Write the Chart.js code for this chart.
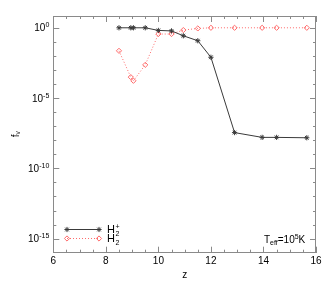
<!DOCTYPE html>
<html>
<head>
<meta charset="utf-8">
<script src="https://cdn.jsdelivr.net/npm/chart.js@4/dist/chart.umd.min.js"></script>
<style>
  html, body { margin: 0; padding: 0; background: #fff; }
  #c { display: block; }
</style>
</head>
<body>
<canvas id="c" width="332" height="287"></canvas>
<script>
// ---- data ----
const zValues = [8.5, 8.95, 9.05, 9.5, 10, 10.5, 10.95, 11.5, 12, 12.9, 13.95, 14.5, 15.65];
const fH2plus = [1, 1, 1, 1, 0.65, 0.6, 0.27, 0.12, 8e-3, 3.5e-8, 1.6e-8, 1.6e-8, 1.5e-8];
const fH2     = [0.023, 3.1e-4, 1.7e-4, 2.3e-3, 0.36, 0.36, 0.69, 0.9, 1, 1, 1, 1, 1];
const seriesNames = ['H₂⁺', 'H₂'];
const xTickValues = [6, 8, 10, 12, 14, 16];
const yTickValues = [1, 1e-5, 1e-10, 1e-15];
const yTickExponents = ['0', '-5', '-10', '-15'];

const FONT = 'Liberation Sans, Arial, Helvetica, sans-serif';
const AXIS_COLOR = '#8a8a8a';
const BLACK_SERIES = '#3a3a3a';
const RED_SERIES = '#ff6a6a';

function pts(xs, ys) { return xs.map((x, i) => ({ x: x, y: ys[i] })); }

const frameTicks = {
  id: 'frameTicks',
  afterDatasetsDraw(chart) {
    const ctx = chart.ctx, a = chart.chartArea;
    const xs = chart.scales.x, ys = chart.scales.y;
    ctx.save();
    ctx.strokeStyle = AXIS_COLOR;
    ctx.lineWidth = 1;
    ctx.beginPath();
    ctx.moveTo(a.left, a.top + 0.5); ctx.lineTo(a.right, a.top + 0.5);
    ctx.moveTo(a.right - 0.5, a.top); ctx.lineTo(a.right - 0.5, a.bottom);
    for (let k = 0; k <= 20; k++) {
      const v = 6 + k * 0.5;
      const px = Math.round(xs.getPixelForValue(v)) + 0.5;
      const len = (k % 4 === 0) ? 6 : 3;
      ctx.moveTo(px, a.bottom); ctx.lineTo(px, a.bottom - len);
      ctx.moveTo(px, a.top); ctx.lineTo(px, a.top + len);
    }
    for (let e = -15; e <= 0; e++) {
      const py = Math.round(ys.getPixelForValue(Math.pow(10, e))) + 0.5;
      const len = (e % 5 === 0) ? 6 : 3;
      ctx.moveTo(a.left, py); ctx.lineTo(a.left + len, py);
      ctx.moveTo(a.right, py); ctx.lineTo(a.right - len, py);
    }
    ctx.stroke();
    ctx.restore();

    // y tick labels: "10" with superscript exponent, right-aligned to the axis
    ctx.save();
    ctx.fillStyle = '#000';
    ctx.textAlign = 'left';
    ctx.textBaseline = 'alphabetic';
    yTickValues.forEach((v, i) => {
      const py = ys.getPixelForValue(v);
      const right = a.left - 4;
      ctx.font = '7px ' + FONT;
      const ew = ctx.measureText(yTickExponents[i]).width;
      ctx.fillText(yTickExponents[i], right - ew, py - 0.5);
      ctx.font = '10px ' + FONT;
      const bw = ctx.measureText('10').width;
      ctx.fillText('10', right - ew - bw, py + 3.5);
    });
    ctx.restore();

    // legend
    const lx0 = 67, lx1 = 99;
    const rows = [
      { y: 229, color: BLACK_SERIES, dash: [], style: 'star', sup: '+' },
      { y: 238, color: RED_SERIES, dash: [1, 2], style: 'rectRot', sup: '' }
    ];
    rows.forEach(r => {
      ctx.save();
      ctx.strokeStyle = r.color;
      ctx.lineWidth = 1;
      ctx.setLineDash(r.dash);
      ctx.beginPath();
      ctx.moveTo(lx0, r.y + 0.5); ctx.lineTo(lx1, r.y + 0.5);
      ctx.stroke();
      ctx.setLineDash([]);
      ctx.fillStyle = 'rgba(255,255,255,0)';
      ctx.strokeStyle = r.color;
      [lx0, lx1].forEach(mx => {
        Chart.helpers.drawPoint(ctx, { pointStyle: r.style, radius: 2.6, borderWidth: 1, rotation: 0 }, mx, r.y + 0.5);
      });
      ctx.restore();
      ctx.save();
      ctx.fillStyle = '#000';
      ctx.textAlign = 'left';
      ctx.textBaseline = 'alphabetic';
      ctx.font = '11px ' + FONT;
      ctx.fillText('H', 107, r.y + 4);
      const hw = ctx.measureText('H').width;
      ctx.font = '7px ' + FONT;
      ctx.fillText('2', 107 + hw + 0.5, r.y + 6.5);
      if (r.sup) ctx.fillText(r.sup, 107 + hw + 0.5, r.y - 0.5);
      ctx.restore();
    });

    // T_eff annotation
    ctx.save();
    ctx.fillStyle = '#000';
    ctx.textAlign = 'left';
    ctx.textBaseline = 'alphabetic';
    let x = 264; const by = 243;
    const part = (txt, size, dy) => {
      ctx.font = size + 'px ' + FONT;
      ctx.fillText(txt, x, by + dy);
      x += ctx.measureText(txt).width;
    };
    part('T', 10, 0);
    part('eff', 7, 2);
    part('=10', 10, 0);
    part('5', 7, -4);
    part('K', 10, 0);
    ctx.restore();
  }
};

new Chart(document.getElementById('c'), {
  type: 'scatter',
  data: {
    datasets: [
      {
        label: seriesNames[0],
        data: pts(zValues, fH2plus),
        showLine: true,
        borderColor: BLACK_SERIES,
        borderWidth: 1,
        pointStyle: 'star',
        pointRadius: 2.6,
        pointBorderWidth: 1,
        pointBorderColor: BLACK_SERIES,
        pointBackgroundColor: BLACK_SERIES
      },
      {
        label: seriesNames[1],
        data: pts(zValues, fH2),
        showLine: true,
        borderColor: RED_SERIES,
        borderWidth: 1,
        borderDash: [1, 2],
        pointStyle: 'rectRot',
        pointRadius: 2.6,
        pointBorderWidth: 1,
        pointBorderColor: RED_SERIES,
        pointBackgroundColor: 'rgba(255,255,255,0)'
      }
    ]
  },
  options: {
    responsive: false,
    animation: false,
    devicePixelRatio: 1,
    layout: { padding: { left: 10, right: 16, top: 16, bottom: 0 } },
    plugins: { legend: { display: false }, tooltip: { enabled: false } },
    scales: {
      x: {
        type: 'linear',
        min: 6, max: 16,
        afterBuildTicks: s => { s.ticks = xTickValues.map(v => ({ value: v })); },
        afterFit: s => { s.height = 34.3; },
        grid: { display: false, drawTicks: false },
        border: { display: true, color: AXIS_COLOR, width: 1 },
        ticks: { color: '#000', font: { family: FONT, size: 10 }, padding: 3, maxRotation: 0 },
        title: { display: true, text: 'z', color: '#000', font: { family: FONT, size: 10 }, padding: { top: 0, bottom: 6 } }
      },
      y: {
        type: 'logarithmic',
        min: 1e-16, max: 6.9,
        afterBuildTicks: s => { s.ticks = yTickValues.map(v => ({ value: v })); },
        afterFit: s => { s.width = 43.3; },
        grid: { display: false, drawTicks: false },
        border: { display: true, color: AXIS_COLOR, width: 1 },
        ticks: { display: false },
        title: { display: true, text: 'fᵥ', color: '#000', font: { family: FONT, size: 10 }, padding: { top: 0, bottom: 0 } }
      }
    }
  },
  plugins: [frameTicks]
});
</script>
</body>
</html>
